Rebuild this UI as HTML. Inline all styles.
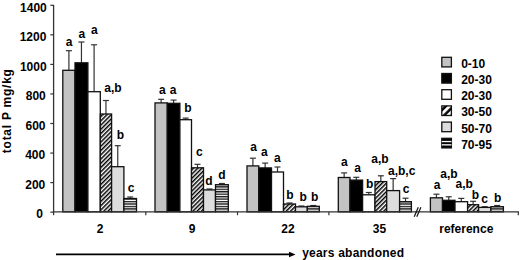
<!DOCTYPE html><html><head><meta charset="utf-8"><style>html,body{margin:0;padding:0;background:#fff;}svg{display:block;}text{font-family:"Liberation Sans",sans-serif;font-weight:bold;}</style></head><body>
<svg width="520" height="260" viewBox="0 0 520 260">
<defs>
<pattern id="hatch" patternUnits="userSpaceOnUse" width="3.0" height="10" patternTransform="rotate(45)"><rect x="0" y="0" width="3.0" height="10" fill="#fff"/><rect x="0" y="0" width="1.5" height="10" fill="#000"/></pattern>
<pattern id="stripe" patternUnits="userSpaceOnUse" width="10" height="2.45"><rect x="0" y="0" width="10" height="2.45" fill="#1a1a1a"/><rect x="0" y="1.35" width="10" height="1.1" fill="#fff"/></pattern>
<pattern id="lhatch" patternUnits="userSpaceOnUse" width="5.4" height="10" patternTransform="rotate(45)"><rect x="0" y="0" width="5.4" height="10" fill="#fff"/><rect x="0.25" y="0" width="2.5" height="10" fill="#000"/></pattern>
</defs>
<line x1="68.90" y1="50.70" x2="68.90" y2="70.30" stroke="#333" stroke-width="1.2"/>
<line x1="65.90" y1="50.70" x2="71.90" y2="50.70" stroke="#333" stroke-width="1.2"/>
<line x1="81.45" y1="42.00" x2="81.45" y2="62.80" stroke="#333" stroke-width="1.2"/>
<line x1="78.45" y1="42.00" x2="84.45" y2="42.00" stroke="#333" stroke-width="1.2"/>
<line x1="94.10" y1="44.80" x2="94.10" y2="91.70" stroke="#333" stroke-width="1.2"/>
<line x1="91.10" y1="44.80" x2="97.10" y2="44.80" stroke="#333" stroke-width="1.2"/>
<line x1="105.95" y1="100.50" x2="105.95" y2="114.00" stroke="#333" stroke-width="1.2"/>
<line x1="102.95" y1="100.50" x2="108.95" y2="100.50" stroke="#333" stroke-width="1.2"/>
<line x1="117.75" y1="145.70" x2="117.75" y2="166.70" stroke="#333" stroke-width="1.2"/>
<line x1="114.75" y1="145.70" x2="120.75" y2="145.70" stroke="#333" stroke-width="1.2"/>
<line x1="130.20" y1="197.00" x2="130.20" y2="198.50" stroke="#333" stroke-width="1.2"/>
<line x1="127.20" y1="197.00" x2="133.20" y2="197.00" stroke="#333" stroke-width="1.2"/>
<line x1="161.15" y1="99.30" x2="161.15" y2="102.90" stroke="#333" stroke-width="1.2"/>
<line x1="158.15" y1="99.30" x2="164.15" y2="99.30" stroke="#333" stroke-width="1.2"/>
<line x1="173.60" y1="100.10" x2="173.60" y2="103.30" stroke="#333" stroke-width="1.2"/>
<line x1="170.60" y1="100.10" x2="176.60" y2="100.10" stroke="#333" stroke-width="1.2"/>
<line x1="185.70" y1="118.10" x2="185.70" y2="119.70" stroke="#333" stroke-width="1.2"/>
<line x1="182.70" y1="118.10" x2="188.70" y2="118.10" stroke="#333" stroke-width="1.2"/>
<line x1="197.50" y1="164.30" x2="197.50" y2="167.80" stroke="#333" stroke-width="1.2"/>
<line x1="194.50" y1="164.30" x2="200.50" y2="164.30" stroke="#333" stroke-width="1.2"/>
<line x1="209.50" y1="189.00" x2="209.50" y2="189.90" stroke="#333" stroke-width="1.2"/>
<line x1="206.50" y1="189.00" x2="212.50" y2="189.00" stroke="#333" stroke-width="1.2"/>
<line x1="221.90" y1="183.50" x2="221.90" y2="184.70" stroke="#333" stroke-width="1.2"/>
<line x1="218.90" y1="183.50" x2="224.90" y2="183.50" stroke="#333" stroke-width="1.2"/>
<line x1="252.90" y1="158.20" x2="252.90" y2="165.90" stroke="#333" stroke-width="1.2"/>
<line x1="249.90" y1="158.20" x2="255.90" y2="158.20" stroke="#333" stroke-width="1.2"/>
<line x1="265.15" y1="163.10" x2="265.15" y2="167.90" stroke="#333" stroke-width="1.2"/>
<line x1="262.15" y1="163.10" x2="268.15" y2="163.10" stroke="#333" stroke-width="1.2"/>
<line x1="277.50" y1="167.00" x2="277.50" y2="172.00" stroke="#333" stroke-width="1.2"/>
<line x1="274.50" y1="167.00" x2="280.50" y2="167.00" stroke="#333" stroke-width="1.2"/>
<line x1="289.50" y1="203.00" x2="289.50" y2="204.00" stroke="#333" stroke-width="1.2"/>
<line x1="286.50" y1="203.00" x2="292.50" y2="203.00" stroke="#333" stroke-width="1.2"/>
<line x1="301.40" y1="206.00" x2="301.40" y2="206.80" stroke="#333" stroke-width="1.2"/>
<line x1="298.40" y1="206.00" x2="304.40" y2="206.00" stroke="#333" stroke-width="1.2"/>
<line x1="313.30" y1="205.50" x2="313.30" y2="206.30" stroke="#333" stroke-width="1.2"/>
<line x1="310.30" y1="205.50" x2="316.30" y2="205.50" stroke="#333" stroke-width="1.2"/>
<line x1="344.15" y1="172.90" x2="344.15" y2="177.50" stroke="#333" stroke-width="1.2"/>
<line x1="341.15" y1="172.90" x2="347.15" y2="172.90" stroke="#333" stroke-width="1.2"/>
<line x1="356.30" y1="177.30" x2="356.30" y2="180.10" stroke="#333" stroke-width="1.2"/>
<line x1="353.30" y1="177.30" x2="359.30" y2="177.30" stroke="#333" stroke-width="1.2"/>
<line x1="368.80" y1="192.50" x2="368.80" y2="194.80" stroke="#333" stroke-width="1.2"/>
<line x1="365.80" y1="192.50" x2="371.80" y2="192.50" stroke="#333" stroke-width="1.2"/>
<line x1="380.85" y1="175.80" x2="380.85" y2="181.60" stroke="#333" stroke-width="1.2"/>
<line x1="377.85" y1="175.80" x2="383.85" y2="175.80" stroke="#333" stroke-width="1.2"/>
<line x1="393.15" y1="178.60" x2="393.15" y2="190.60" stroke="#333" stroke-width="1.2"/>
<line x1="390.15" y1="178.60" x2="396.15" y2="178.60" stroke="#333" stroke-width="1.2"/>
<line x1="405.50" y1="198.20" x2="405.50" y2="201.70" stroke="#333" stroke-width="1.2"/>
<line x1="402.50" y1="198.20" x2="408.50" y2="198.20" stroke="#333" stroke-width="1.2"/>
<line x1="436.45" y1="194.20" x2="436.45" y2="197.80" stroke="#333" stroke-width="1.2"/>
<line x1="433.45" y1="194.20" x2="439.45" y2="194.20" stroke="#333" stroke-width="1.2"/>
<line x1="448.75" y1="196.80" x2="448.75" y2="200.30" stroke="#333" stroke-width="1.2"/>
<line x1="445.75" y1="196.80" x2="451.75" y2="196.80" stroke="#333" stroke-width="1.2"/>
<line x1="461.30" y1="198.40" x2="461.30" y2="201.70" stroke="#333" stroke-width="1.2"/>
<line x1="458.30" y1="198.40" x2="464.30" y2="198.40" stroke="#333" stroke-width="1.2"/>
<line x1="473.10" y1="201.30" x2="473.10" y2="204.70" stroke="#333" stroke-width="1.2"/>
<line x1="470.10" y1="201.30" x2="476.10" y2="201.30" stroke="#333" stroke-width="1.2"/>
<line x1="484.75" y1="206.70" x2="484.75" y2="207.40" stroke="#333" stroke-width="1.2"/>
<line x1="481.75" y1="206.70" x2="487.75" y2="206.70" stroke="#333" stroke-width="1.2"/>
<line x1="497.15" y1="205.50" x2="497.15" y2="206.70" stroke="#333" stroke-width="1.2"/>
<line x1="494.15" y1="205.50" x2="500.15" y2="205.50" stroke="#333" stroke-width="1.2"/>
<rect x="62.80" y="70.30" width="12.20" height="141.50" fill="#c3c3c3" stroke="#111" stroke-width="1.3"/>
<text x="69.00" y="45.50" font-size="12" text-anchor="middle">a</text>
<rect x="75.00" y="62.80" width="12.90" height="149.00" fill="#000000" stroke="#111" stroke-width="1.3"/>
<text x="81.75" y="37.50" font-size="12" text-anchor="middle">a</text>
<rect x="87.90" y="91.70" width="12.40" height="120.10" fill="#ffffff" stroke="#111" stroke-width="1.3"/>
<text x="94.25" y="33.50" font-size="12" text-anchor="middle">a</text>
<rect x="100.30" y="114.00" width="11.30" height="97.80" fill="url(#hatch)" stroke="#111" stroke-width="1.3"/>
<text x="113.00" y="92.00" font-size="12" text-anchor="middle">a,b</text>
<rect x="111.60" y="166.70" width="12.30" height="45.10" fill="#dddddd" stroke="#111" stroke-width="1.3"/>
<text x="120.40" y="138.80" font-size="12" text-anchor="middle">b</text>
<rect x="123.90" y="198.50" width="12.60" height="13.30" fill="url(#stripe)" stroke="#111" stroke-width="1.3"/>
<text x="131.10" y="191.60" font-size="12" text-anchor="middle">c</text>
<rect x="155.00" y="102.90" width="12.30" height="108.90" fill="#c3c3c3" stroke="#111" stroke-width="1.3"/>
<text x="162.30" y="93.50" font-size="12" text-anchor="middle">a</text>
<rect x="167.30" y="103.30" width="12.60" height="108.50" fill="#000000" stroke="#111" stroke-width="1.3"/>
<text x="173.10" y="93.50" font-size="12" text-anchor="middle">a</text>
<rect x="179.90" y="119.70" width="11.60" height="92.10" fill="#ffffff" stroke="#111" stroke-width="1.3"/>
<text x="187.90" y="111.90" font-size="12" text-anchor="middle">b</text>
<rect x="191.50" y="167.80" width="12.00" height="44.00" fill="url(#hatch)" stroke="#111" stroke-width="1.3"/>
<text x="199.30" y="155.80" font-size="12" text-anchor="middle">c</text>
<rect x="203.50" y="189.90" width="12.00" height="21.90" fill="#dddddd" stroke="#111" stroke-width="1.3"/>
<text x="208.90" y="184.60" font-size="12" text-anchor="middle">d</text>
<rect x="215.50" y="184.70" width="12.80" height="27.10" fill="url(#stripe)" stroke="#111" stroke-width="1.3"/>
<text x="222.00" y="178.80" font-size="12" text-anchor="middle">d</text>
<rect x="247.00" y="165.90" width="11.80" height="45.90" fill="#c3c3c3" stroke="#111" stroke-width="1.3"/>
<text x="253.70" y="150.80" font-size="12" text-anchor="middle">a</text>
<rect x="258.80" y="167.90" width="12.70" height="43.90" fill="#000000" stroke="#111" stroke-width="1.3"/>
<text x="264.30" y="156.20" font-size="12" text-anchor="middle">a</text>
<rect x="271.50" y="172.00" width="12.00" height="39.80" fill="#ffffff" stroke="#111" stroke-width="1.3"/>
<text x="277.40" y="161.50" font-size="12" text-anchor="middle">a</text>
<rect x="283.50" y="204.00" width="12.00" height="7.80" fill="url(#hatch)" stroke="#111" stroke-width="1.3"/>
<text x="290.00" y="199.40" font-size="12" text-anchor="middle">b</text>
<rect x="295.50" y="206.80" width="11.80" height="5.00" fill="#dddddd" stroke="#111" stroke-width="1.3"/>
<text x="303.10" y="201.40" font-size="12" text-anchor="middle">b</text>
<rect x="307.30" y="206.30" width="12.00" height="5.50" fill="url(#stripe)" stroke="#111" stroke-width="1.3"/>
<text x="314.60" y="201.40" font-size="12" text-anchor="middle">b</text>
<rect x="338.30" y="177.50" width="11.70" height="34.30" fill="#c3c3c3" stroke="#111" stroke-width="1.3"/>
<text x="344.40" y="166.00" font-size="12" text-anchor="middle">a</text>
<rect x="350.00" y="180.10" width="12.60" height="31.70" fill="#000000" stroke="#111" stroke-width="1.3"/>
<text x="357.50" y="171.60" font-size="12" text-anchor="middle">a</text>
<rect x="362.60" y="194.80" width="12.40" height="17.00" fill="#ffffff" stroke="#111" stroke-width="1.3"/>
<text x="369.60" y="188.00" font-size="12" text-anchor="middle">b</text>
<rect x="375.00" y="181.60" width="11.70" height="30.20" fill="url(#hatch)" stroke="#111" stroke-width="1.3"/>
<text x="380.00" y="163.10" font-size="12" text-anchor="middle">a,b</text>
<rect x="386.70" y="190.60" width="12.90" height="21.20" fill="#dddddd" stroke="#111" stroke-width="1.3"/>
<text x="401.70" y="174.60" font-size="12" text-anchor="middle">a,b,c</text>
<rect x="399.60" y="201.70" width="11.80" height="10.10" fill="url(#stripe)" stroke="#111" stroke-width="1.3"/>
<text x="406.20" y="193.30" font-size="12" text-anchor="middle">c</text>
<rect x="430.40" y="197.80" width="12.10" height="14.00" fill="#c3c3c3" stroke="#111" stroke-width="1.3"/>
<text x="437.10" y="188.50" font-size="12" text-anchor="middle">a</text>
<rect x="442.50" y="200.30" width="12.50" height="11.50" fill="#000000" stroke="#111" stroke-width="1.3"/>
<text x="449.00" y="178.20" font-size="12" text-anchor="middle">a,b</text>
<rect x="455.00" y="201.70" width="12.60" height="10.10" fill="#ffffff" stroke="#111" stroke-width="1.3"/>
<text x="464.20" y="187.70" font-size="12" text-anchor="middle">a,b</text>
<rect x="467.60" y="204.70" width="11.00" height="7.10" fill="url(#hatch)" stroke="#111" stroke-width="1.3"/>
<text x="475.50" y="198.70" font-size="12" text-anchor="middle">b</text>
<rect x="478.60" y="207.40" width="12.30" height="4.40" fill="#dddddd" stroke="#111" stroke-width="1.3"/>
<text x="484.60" y="202.70" font-size="12" text-anchor="middle">c</text>
<rect x="490.90" y="206.70" width="12.50" height="5.10" fill="url(#stripe)" stroke="#111" stroke-width="1.3"/>
<text x="497.60" y="201.60" font-size="12" text-anchor="middle">b</text>
<line x1="53.6" y1="5" x2="53.6" y2="215.2" stroke="#333" stroke-width="1.3"/>
<line x1="53" y1="211.80" x2="518.8" y2="211.80" stroke="#333" stroke-width="1.3"/>
<line x1="50.3" y1="5.30" x2="54" y2="5.30" stroke="#333" stroke-width="1.2"/>
<text x="46.80" y="11.50" font-size="12" text-anchor="end">1400</text>
<line x1="50.3" y1="34.85" x2="54" y2="34.85" stroke="#333" stroke-width="1.2"/>
<text x="46.40" y="41.05" font-size="12" text-anchor="end">1200</text>
<line x1="50.3" y1="64.40" x2="54" y2="64.40" stroke="#333" stroke-width="1.2"/>
<text x="46.60" y="70.60" font-size="12" text-anchor="end">1000</text>
<line x1="50.3" y1="93.95" x2="54" y2="93.95" stroke="#333" stroke-width="1.2"/>
<text x="45.80" y="100.15" font-size="12" text-anchor="end">800</text>
<line x1="50.3" y1="123.50" x2="54" y2="123.50" stroke="#333" stroke-width="1.2"/>
<text x="45.50" y="129.70" font-size="12" text-anchor="end">600</text>
<line x1="50.3" y1="153.05" x2="54" y2="153.05" stroke="#333" stroke-width="1.2"/>
<text x="45.20" y="159.25" font-size="12" text-anchor="end">400</text>
<line x1="50.3" y1="182.60" x2="54" y2="182.60" stroke="#333" stroke-width="1.2"/>
<text x="45.30" y="188.80" font-size="12" text-anchor="end">200</text>
<line x1="50.3" y1="212.15" x2="54" y2="212.15" stroke="#333" stroke-width="1.2"/>
<text x="43.00" y="218.35" font-size="12" text-anchor="end">0</text>
<line x1="145.8" y1="211.80" x2="145.8" y2="215.2" stroke="#333" stroke-width="1.2"/>
<line x1="237.5" y1="211.80" x2="237.5" y2="215.2" stroke="#333" stroke-width="1.2"/>
<line x1="328.9" y1="211.80" x2="328.9" y2="215.2" stroke="#333" stroke-width="1.2"/>
<line x1="518.3" y1="211.80" x2="518.3" y2="215.2" stroke="#333" stroke-width="1.2"/>
<line x1="414.2" y1="216.8" x2="418.3" y2="207.2" stroke="#111" stroke-width="1.2"/>
<line x1="416.8" y1="216.8" x2="420.9" y2="207.2" stroke="#111" stroke-width="1.2"/>
<text x="100.0" y="233.1" font-size="12" text-anchor="middle">2</text>
<text x="192.1" y="233.1" font-size="12" text-anchor="middle">9</text>
<text x="287.9" y="233.1" font-size="12" text-anchor="middle">22</text>
<text x="379.5" y="233.1" font-size="12" text-anchor="middle">35</text>
<text x="466.3" y="233.1" font-size="12" text-anchor="middle">reference</text>
<text transform="translate(11.3,153.2) rotate(-90)" font-size="12" letter-spacing="0.75" text-anchor="start">total P mg/kg</text>
<rect x="441.8" y="57.30" width="9.6" height="9.6" fill="#c3c3c3" stroke="#111" stroke-width="1.3"/>
<text x="461.2" y="67.80" font-size="12">0-10</text>
<rect x="441.8" y="73.50" width="9.6" height="9.6" fill="#000" stroke="#111" stroke-width="1.3"/>
<text x="461.2" y="84.00" font-size="12">20-30</text>
<rect x="441.8" y="89.70" width="9.6" height="9.6" fill="#fff" stroke="#111" stroke-width="1.3"/>
<text x="461.2" y="100.20" font-size="12">20-30</text>
<rect x="441.8" y="105.90" width="9.6" height="9.6" fill="url(#lhatch)" stroke="#111" stroke-width="1.3"/>
<text x="461.2" y="116.40" font-size="12">30-50</text>
<rect x="441.8" y="122.10" width="9.6" height="9.6" fill="#dddddd" stroke="#111" stroke-width="1.3"/>
<text x="461.2" y="132.60" font-size="12">50-70</text>
<rect x="441.8" y="138.30" width="9.6" height="9.6" fill="#000" stroke="#111" stroke-width="1.3"/>
<rect x="441.8" y="140.90" width="9.6" height="1.3" fill="#fff"/>
<rect x="441.8" y="144.20" width="9.6" height="1.3" fill="#fff"/>
<text x="461.2" y="148.80" font-size="12">70-95</text>
<line x1="56" y1="254.4" x2="290" y2="254.4" stroke="#000" stroke-width="1.8"/>
<path d="M289 251.8 L295.6 254.4 L289 257.2 Z" fill="#000"/>
<text x="302.2" y="257.2" font-size="12" letter-spacing="0.22">years abandoned</text>
</svg></body></html>
